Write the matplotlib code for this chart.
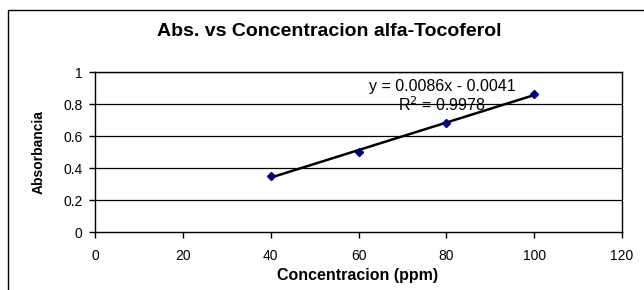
import numpy as np
import matplotlib.pyplot as plt
from matplotlib.patches import Rectangle

plt.rcParams['font.family'] = ['Liberation Sans', 'DejaVu Sans']

conc = [40, 60, 80, 100]
absorb = [0.35, 0.50, 0.68, 0.86]
slope, intercept = 0.0086, -0.0041
xticks = [0, 20, 40, 60, 80, 100, 120]
yticks = [0, 0.2, 0.4, 0.6, 0.8, 1]

fig = plt.figure(figsize=(6.44, 2.90), dpi=100)
ax = fig.add_axes([95 / 644, 58 / 290, 527 / 644, 160 / 290])

# outer chart frame
fig.patches.append(Rectangle((8 / 644, -0.1), 1.2, 1 - 10 / 290 + 0.1,
                             transform=fig.transFigure, fill=False,
                             edgecolor='black', linewidth=1.0, clip_on=False))

for yv in yticks[1:]:
    ax.axhline(yv, color='black', linewidth=0.9, zorder=1)

xs = np.array([conc[0], conc[-1]])
ax.plot(xs, slope * xs + intercept, color='black', linewidth=1.8, zorder=2)
ax.plot(conc, absorb, linestyle='none', marker='D', markersize=4,
        color='#000080', zorder=3)

ax.set_xlim(0, 120)
ax.set_ylim(0, 1)
ax.set_xticks(xticks)
ax.set_yticks(yticks)
ax.set_yticklabels(['0', '0.2', '0.4', '0.6', '0.8', '1'])
ax.tick_params(direction='out', length=4, width=1, labelsize=10)
ax.tick_params(axis='x', pad=8)
ax.tick_params(axis='y', pad=5)
for s in ax.spines.values():
    s.set_linewidth(1.0)

ax.text(79, 0.9125, 'y = 0.0086x - 0.0041', ha='center', va='center', fontsize=11.5)
ax.text(79, 0.794, 'R$^2$ = 0.9978', ha='center', va='center', fontsize=11.5)

ax.set_xlabel('Concentracion (ppm)', fontsize=11.5, fontweight='bold')
ax.set_ylabel('Absorbancia', fontsize=10, fontweight='bold')
ax.xaxis.set_label_coords(0.498, -0.269)
ax.yaxis.set_label_coords(-0.106, 0.5)
for lbl in (ax.xaxis.label, ax.yaxis.label):
    lbl.set_verticalalignment('center')
fig.text(329 / 644, 1 - 32 / 290, 'Abs. vs Concentracion alfa-Tocoferol',
         ha='center', va='center', fontsize=14, fontweight='bold')

fig.savefig('out.png', dpi=100)
